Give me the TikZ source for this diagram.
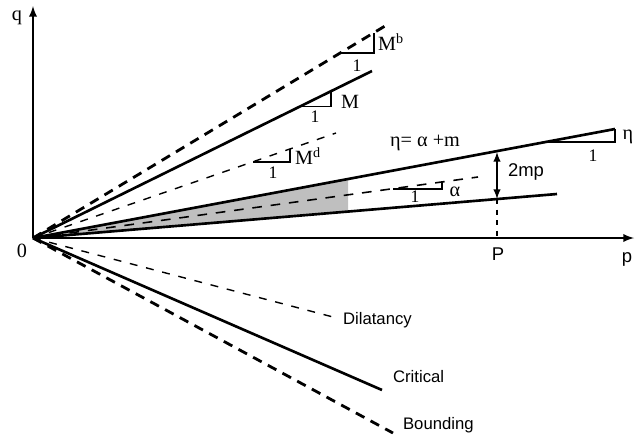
\documentclass[tikz,border=0pt]{standalone}
\usepackage{fontspec}
\setmainfont{Liberation Serif}
\setsansfont{Liberation Sans}
\tikzset{
  axis/.style={line width=1.1pt,-latex},
  boundline/.style={line width=1.6pt,dash pattern=on 5.5pt off 4pt},
  critline/.style={line width=1.5pt},
  dilline/.style={line width=0.8pt,dash pattern=on 4.5pt off 5pt},
  alphaline/.style={line width=0.9pt,dash pattern=on 5.5pt off 5pt},
  slopetri/.style={line width=0.9pt},
  lbl/.style={font=\fontsize{11.5}{13}\selectfont,inner sep=1pt},
  sflbl/.style={font=\sffamily\fontsize{10.5}{12}\selectfont,inner sep=1pt},
  onelbl/.style={font=\fontsize{10}{12}\selectfont,inner sep=1pt},
  sublbl/.style={font=\sffamily\fontsize{9.5}{11}\selectfont,inner sep=1pt,anchor=west},
}
\begin{document}
\begin{tikzpicture}
\begin{scope}[x=0.02cm,y=0.02cm,yscale=-1]%<- pixel grid
  \useasboundingbox (0,0) rectangle (635,437);
  \coordinate (O) at (33,238);
  \coordinate (qtop) at (33,6);
  \coordinate (pend) at (634,238);
  \coordinate (Mb) at (390,23);
  \coordinate (Mc) at (372,71);
  \coordinate (Md) at (336,133);
  \coordinate (eta) at (615,129);
  \coordinate (alpha) at (478,177);
  \coordinate (low) at (557,194);
  \coordinate (dil) at (333,317);
  \coordinate (crit) at (382,390);
  \coordinate (bnd) at (393,433);
  % shaded wedge
  \fill[gray!50] (O) -- (348,179.5) -- (348,211.5) -- cycle;
  % axes
  \draw[axis] (O) -- (qtop);
  \draw[axis] (O) -- (pend);
  \node[lbl] (qlbl) at (17,18) {q};
  \node[sflbl] (plbl) at (627,259) {p};
  \node[lbl] (olbl) at (22,251) {0};
  % compression side
  \draw[boundline] (O) -- (Mb);
  \draw[critline] (O) -- (Mc);
  \draw[dilline] (O) -- (Md);
  \draw[critline] (O) -- (eta);
  \draw[alphaline] (O) -- (alpha);
  \draw[critline] (O) -- (low);
  % extension side
  \draw[dilline] (O) -- (dil);
  \draw[critline] (O) -- (crit);
  \draw[boundline] (O) -- (bnd);
  \node[sublbl] (dillbl) at (341,320) {Dilatancy};
  \node[sublbl] (critlbl) at (391,377) {Critical};
  \node[sublbl] (bndlbl) at (401,425) {Bounding};
  % slope triangles
  \draw[slopetri] (340,53) -- (374,53) -- (374,33);
  \node[lbl] (Mblbl) at (391,42) {M\textsuperscript{b}};
  \node[onelbl] (Mbone) at (357,66) {1};
  \draw[slopetri] (300,106.5) -- (331,106.5) -- (331,91.2);
  \node[lbl] (Mlbl) at (350,102) {M};
  \node[onelbl] (Mone) at (315,117) {1};
  \draw[slopetri] (253,162) -- (290,162) -- (290,149);
  \node[lbl] (Mdlbl) at (308,156) {M\textsuperscript{d}};
  \node[onelbl] (Mdone) at (273,173) {1};
  \draw[slopetri] (545,142) -- (615,142) -- (eta);
  \node[lbl] (etalbl) at (628,137) {η};
  \node[onelbl] (etaone) at (593,156) {1};
  \draw[slopetri] (393,189) -- (442,189) -- (442,182.4);
  \node[lbl] (alphalbl) at (455,192) {α};
  \node[onelbl] (alphaone) at (415,197) {1};
  \node[lbl] (etaeq) at (425,143) {η= α +m};
  % offset at P
  \coordinate (etaP) at (497,152);
  \coordinate (lowP) at (497,199);
  \coordinate (axP) at (497,238);
  \draw[latex-latex,line width=0.9pt] (etaP) -- (lowP);
  \draw[line width=0.8pt,dash pattern=on 3pt off 3pt] (lowP) -- (axP);
  \node[sflbl] (mplbl) at (526,172) {2mp};
  \node[sflbl] (Plbl) at (498,254) {P};
\end{scope}
\end{tikzpicture}
\end{document}
